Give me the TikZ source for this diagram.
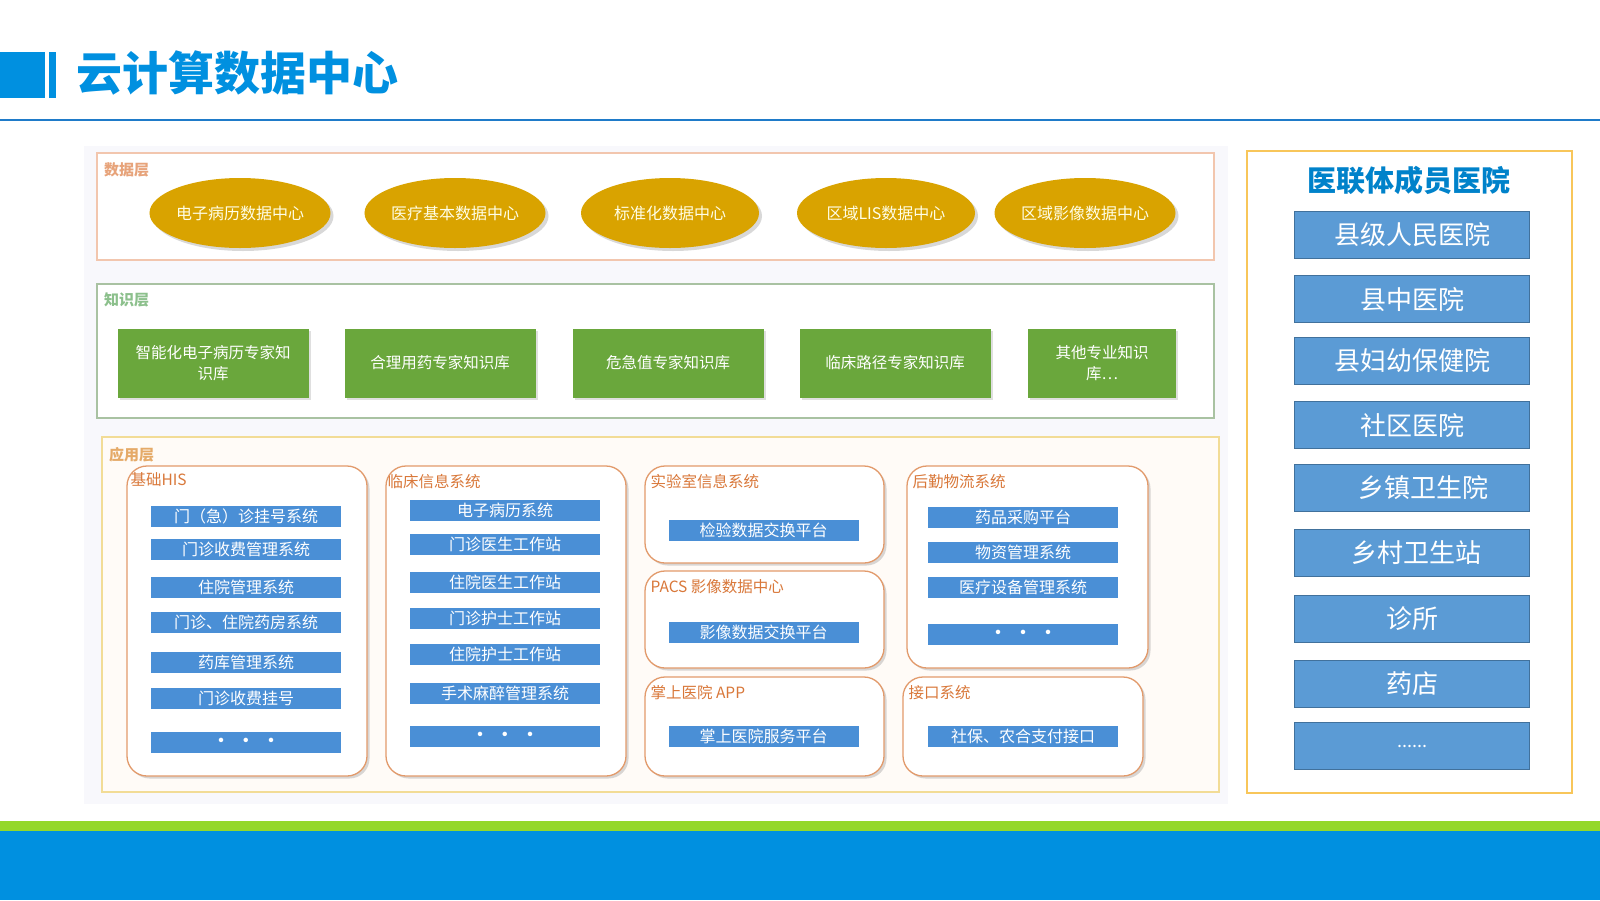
\documentclass[tikz,border=0pt]{standalone}
\usepackage{fontspec}
\setmainfont{Noto Sans CJK SC}
\usetikzlibrary{shapes.geometric,shadows,positioning}
\definecolor{hdblue}{HTML}{0090E0}
\definecolor{hdrule}{HTML}{1F7BC9}
\definecolor{lime}{HTML}{94D82A}
\definecolor{gold}{HTML}{D9A300}
\definecolor{leaf}{HTML}{6AA73C}
\definecolor{barblue}{HTML}{4A8FD6}
\definecolor{memblue}{HTML}{5B9BD5}
\definecolor{memedge}{HTML}{41719C}
\definecolor{ora}{HTML}{D9783A}
\definecolor{peach}{HTML}{F2C6AE}
\definecolor{sage}{HTML}{A9C2A2}
\definecolor{straw}{HTML}{F2DC96}
\definecolor{panel}{HTML}{F8C65A}
\tikzset{
  lyr/.style={rectangle,line width=1.6pt,inner sep=0pt},
  lyl/.style={anchor=west,inner sep=0pt,font=\fontsize{15}{15}\selectfont\bfseries},
  dc/.style={ellipse,fill=gold,text=white!90!yellow,minimum width=178pt,minimum height=70pt,
    inner sep=0pt,font=\fontsize{16}{16}\selectfont,
    drop shadow={shadow xshift=3pt,shadow yshift=-3pt,opacity=.3}},
  kb/.style={rectangle,fill=leaf,text=white,minimum height=69pt,inner sep=2pt,align=center,
    font=\fontsize{15.5}{21}\selectfont,
    drop shadow={shadow xshift=2pt,shadow yshift=-2pt,opacity=.25}},
  sys/.style={rectangle,rounded corners=20pt,draw=ora!75,line width=1.3pt,fill=white,inner sep=0pt,
    drop shadow={shadow xshift=2.5pt,shadow yshift=-2.5pt,opacity=.3}},
  sysl/.style={anchor=north west,inner sep=0pt,text=ora,font=\fontsize{15.5}{15.5}\selectfont},
  br/.style={rectangle,fill=barblue,text=white,minimum width=190pt,minimum height=21pt,inner sep=0pt,
    font=\fontsize{16}{16}\selectfont},
  mb/.style={rectangle,draw=memedge,line width=1.5pt,fill=memblue,text=white,minimum width=235pt,
    minimum height=47pt,inner sep=0pt,font=\fontsize{26}{26}\selectfont},
}
\newcommand{\dotsrow}{{\bfseries ·\hspace{9pt}·\hspace{9pt}·}}
\begin{document}
\begin{tikzpicture}[x=1pt,y=-1pt]
\useasboundingbox (0,0) rectangle (1600,900);
% ============================= header and footer
\fill[hdblue] (0,52) rectangle (45,98);
\fill[hdblue] (49,52) rectangle (56,98);
\node[anchor=west,inner sep=0pt,text=hdblue,font=\fontsize{46}{46}\selectfont\bfseries] (ttl) at (76,73) {云计算数据中心};
\draw[hdrule,line width=2pt] (0,120) -- (1600,120);
\fill[lime] (0,821) rectangle (1600,831);
\fill[hdblue] (0,831) rectangle (1600,900);
% ============================= picture ground
\fill[blue!40!gray!4] (84,146) rectangle (1228,804);
% ============================= data layer
\node[lyr,draw=peach,fill=white,minimum width=1117pt,minimum height=107pt] (dl) at (655.5,206.5) {};
\node[lyl,text=peach!55!ora] at (104,170) {数据层};
\foreach \x/\t [count=\i] in {240/电子病历数据中心,455/医疗基本数据中心,670/标准化数据中心,886/区域LIS数据中心,1085/区域影像数据中心}
  \node[dc] (d\i) at (\x,213) {\t};
% ============================= knowledge layer
\node[lyr,draw=sage,fill=white,minimum width=1117pt,minimum height=134pt] (kl) at (655.5,351) {};
\node[lyl,text=black!55!green!45] at (104,300) {知识层};
\node[kb,minimum width=191pt] (k1) at (213,363) {智能化电子病历专家知\\识库};
\node[kb,minimum width=191pt] (k2) at (440,363) {合理用药专家知识库};
\node[kb,minimum width=191pt] (k3) at (668,363) {危急值专家知识库};
\node[kb,minimum width=191pt] (k4) at (895,363) {临床路径专家知识库};
\node[kb,minimum width=148pt] (k5) at (1102,363) {其他专业知识\\库…};
% ============================= application layer
\node[lyr,draw=straw,fill=orange!3,minimum width=1117pt,minimum height=355pt] (al) at (660.5,614.5) {};
\node[lyl,text=straw!50!ora] at (109,455) {应用层};
\node[sys,minimum width=240pt,minimum height=310pt] (his) at (247,621) {};
\node[sys,minimum width=240pt,minimum height=310pt] (cis) at (506,621) {};
\node[sys,minimum width=239pt,minimum height=97pt] (lis) at (764.5,514.5) {};
\node[sys,minimum width=239pt,minimum height=97pt] (pacs) at (764.5,619.5) {};
\node[sys,minimum width=239pt,minimum height=99pt] (app) at (764.5,726.5) {};
\node[sys,minimum width=241pt,minimum height=202pt] (lgs) at (1027.5,567) {};
\node[sys,minimum width=240pt,minimum height=99pt] (ifc) at (1023,726.5) {};
\node[sysl] at ([xshift=4pt,yshift=-7pt]his.north west) {基础HIS};
\node[sysl] at ([xshift=2pt,yshift=-9pt]cis.north west) {临床信息系统};
\node[sysl] at ([xshift=6pt,yshift=-9pt]lis.north west) {实验室信息系统};
\node[sysl] at ([xshift=6pt,yshift=-9pt]pacs.north west) {PACS 影像数据中心};
\node[sysl] at ([xshift=6pt,yshift=-9pt]app.north west) {掌上医院 APP};
\node[sysl] at ([xshift=6pt,yshift=-9pt]lgs.north west) {后勤物流系统};
\node[sysl] at ([xshift=6pt,yshift=-9pt]ifc.north west) {接口系统};
\foreach \y/\t [count=\i] in {516/门（急）诊挂号系统,549/门诊收费管理系统,587/住院管理系统,622/门诊、住院药房系统,662/药库管理系统,698/门诊收费挂号,742/\dotsrow}
  \node[br] (h\i) at (246,\y) {\t};
\foreach \y/\t [count=\i] in {510/电子病历系统,544/门诊医生工作站,582/住院医生工作站,618/门诊护士工作站,654/住院护士工作站,693/手术麻醉管理系统,736/\dotsrow}
  \node[br] (c\i) at (505,\y) {\t};
\node[br] (lis1) at (763.5,530) {检验数据交换平台};
\node[br] (pacs1) at (763.5,632) {影像数据交换平台};
\node[br] (app1) at (763.5,736) {掌上医院服务平台};
\foreach \y/\t [count=\i] in {517/药品采购平台,552/物资管理系统,587/医疗设备管理系统,634/\dotsrow}
  \node[br] (g\i) at (1023,\y) {\t};
\node[br] (ifc1) at (1023,736) {社保、农合支付接口};
% ============================= member hospitals
\node[rectangle,draw=panel,line width=1.5pt,minimum width=325pt,minimum height=642pt] (mp) at (1409.5,472) {};
\node[inner sep=0pt,text=hdblue!90!black,font=\fontsize{29}{29}\selectfont\bfseries] (mpt) at (1409,180) {医联体成员医院};
\foreach \y/\t [count=\i] in {235/县级人民医院,299/县中医院,361/县妇幼保健院,425/社区医院,488/\hspace{22pt}乡镇卫生院,553/\hspace{8pt}乡村卫生站,619/诊所,684/药店,746/{\fontsize{18}{18}\selectfont ......}}
  \node[mb] (m\i) at (1412,\y) {\t};
\end{tikzpicture}
\end{document}
